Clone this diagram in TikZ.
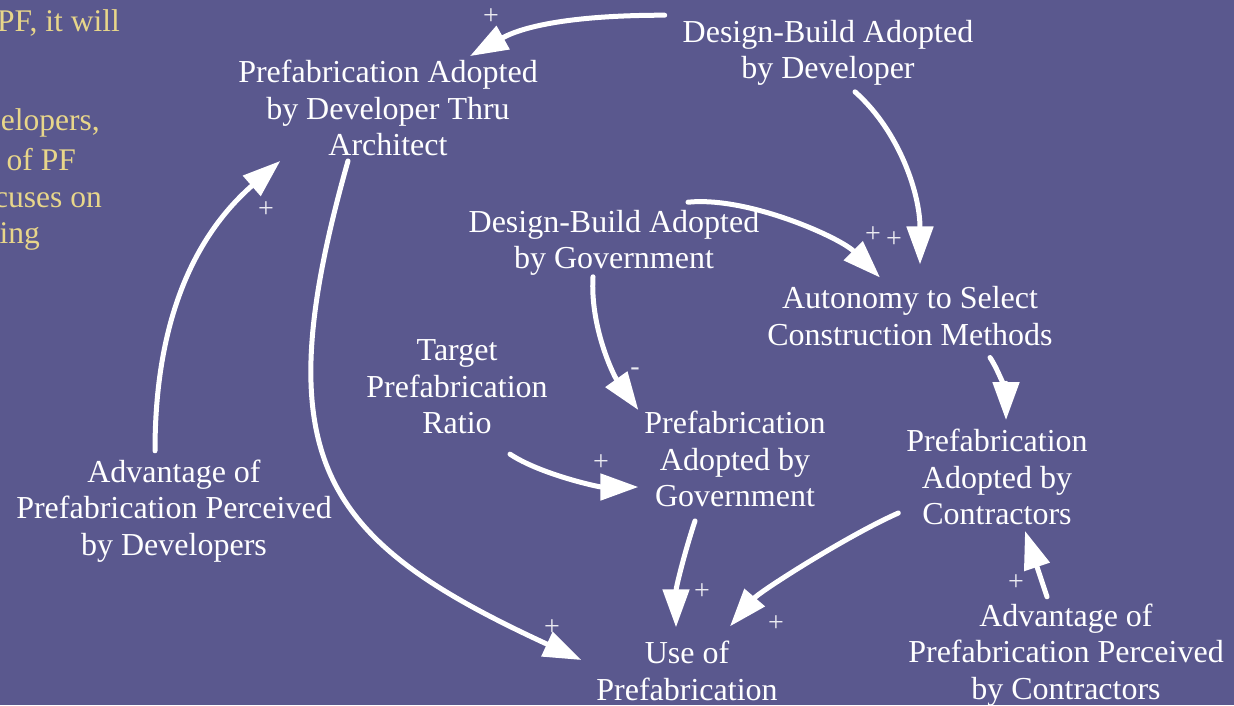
\documentclass[tikz,border=0pt]{standalone}
\usepackage{fontspec}
\setmainfont{Liberation Serif}
\usetikzlibrary{arrows.meta}
\definecolor{slate}{RGB}{90,88,142}
\definecolor{sand}{RGB}{232,214,138}

\begin{document}
\begin{tikzpicture}[x=1pt,y=-1pt,
  factor/.style={align=center,inner sep=0pt,outer sep=0pt,text=white,
    font=\fontsize{32}{36.5}\selectfont},
  link/.style={draw=white,line width=5pt,line cap=round,
    -{Triangle[length=38pt,width=26pt]}},
  sign/.style={inner sep=0pt,text=white!88!slate,font=\fontsize{28}{28}\selectfont},
  note/.style={anchor=base east,inner sep=0pt,text=sand,
    font=\fontsize{31.5}{36}\selectfont}]
  \fill[slate] (0,0) rectangle (1234,705);
  \useasboundingbox (0,0) rectangle (1234,705);

  % text cut by the left edge
  \node[note] (N1) at (120,31) {PF, it will};
  \node[note] (N2) at (100,130) {elopers,};
  \node[note] (N3) at (76,170) {of PF};
  \node[note] (N4) at (102,207) {cuses on};
  \node[note] (N5) at (40,243) {ing};

  \path
  (828,53) node[factor] (DBD) {Design-Build Adopted\\by Developer}
  (388,108) node[factor] (PAD) {Prefabrication Adopted\\by Developer Thru\\Architect}
  (614,243) node[factor] (DBG) {Design-Build Adopted\\by Government}
  (910,316) node[factor] (AUT) {Autonomy to Select\\Construction Methods}
  (457,387) node[factor] (TPR) {Target\\Prefabrication\\Ratio}
  (735,459) node[factor] (PAG) {Prefabrication\\Adopted by\\Government}
  (997,477) node[factor] (PAC) {Prefabrication\\Adopted by\\Contractors}
  (174,511) node[factor] (ADD) {Advantage of\\Prefabrication Perceived\\by Developers}
  (687,671) node[factor] (UOP) {Use of\\Prefabrication}
  (1066,655) node[factor] (ADC) {Advantage of\\Prefabrication Perceived\\by Contractors};

  \draw[link] ([shift={(-18,-5)}]DBD.north west) .. controls +(-100,0) and +(50,-28) .. ([shift={(82,-4)}]PAD.north);
  \draw[link] ([shift={(27,6)}]DBD.south) .. controls +(45,40) and +(0,-70) .. ([shift={(10,-22)}]AUT.north);
  \draw[link] ([shift={(74,-8)}]DBG.north) .. controls +(60,-6) and +(-40,-40) .. ([shift={(-30,-9)}]AUT.north);
  \draw[link] ([shift={(-21,1)}]DBG.south) .. controls +(-3,50) and +(-25,-35) .. ([shift={(-6,-1)}]PAG.north west);
  \draw[link] ([shift={(53,20)}]TPR.south) .. controls +(30,20) and +(-40,0) .. ([shift={(-6,28)}]PAG.west);
  \draw[link] ([shift={(-40,14)}]PAG.south) .. controls +(-10,30) and +(0,-40) .. ([shift={(-11,-14)}]UOP.north);
  \draw[link] ([shift={(-8,36)}]PAC.west) .. controls +(-50,22) and +(30,-35) .. ([shift={(43,-15)}]UOP.north);
  \draw[link] ([shift={(-19,-7)}]ADC.north) -- ([shift={(28,6)}]PAC.south);
  \draw[link] ([shift={(-40,5)}]PAD.south) .. controls +(-85,300) and +(-260,-120) .. ([shift={(-15,-11)}]UOP.west);
  \draw[link] ([shift={(-19,-9)}]ADD.north) .. controls +(0,-140) and +(-80,70) .. ([shift={(42,5)}]PAD.south west);
  \draw[link] ([shift={(80,12)}]AUT.south) .. controls +(10,15) and +(0,-25) .. ([shift={(9,-9)}]PAC.north);

  \foreach \x/\y/\s [count=\i] in {491/17/+, 873/235/+, 894/240/+, 635/372/-,
      601/463/+, 702/592/+, 776/624/+, 552/628/+, 1016/583/+, 266/210/+}
    \node[sign] (S\i) at (\x,\y) {\s};
\end{tikzpicture}
\end{document}
